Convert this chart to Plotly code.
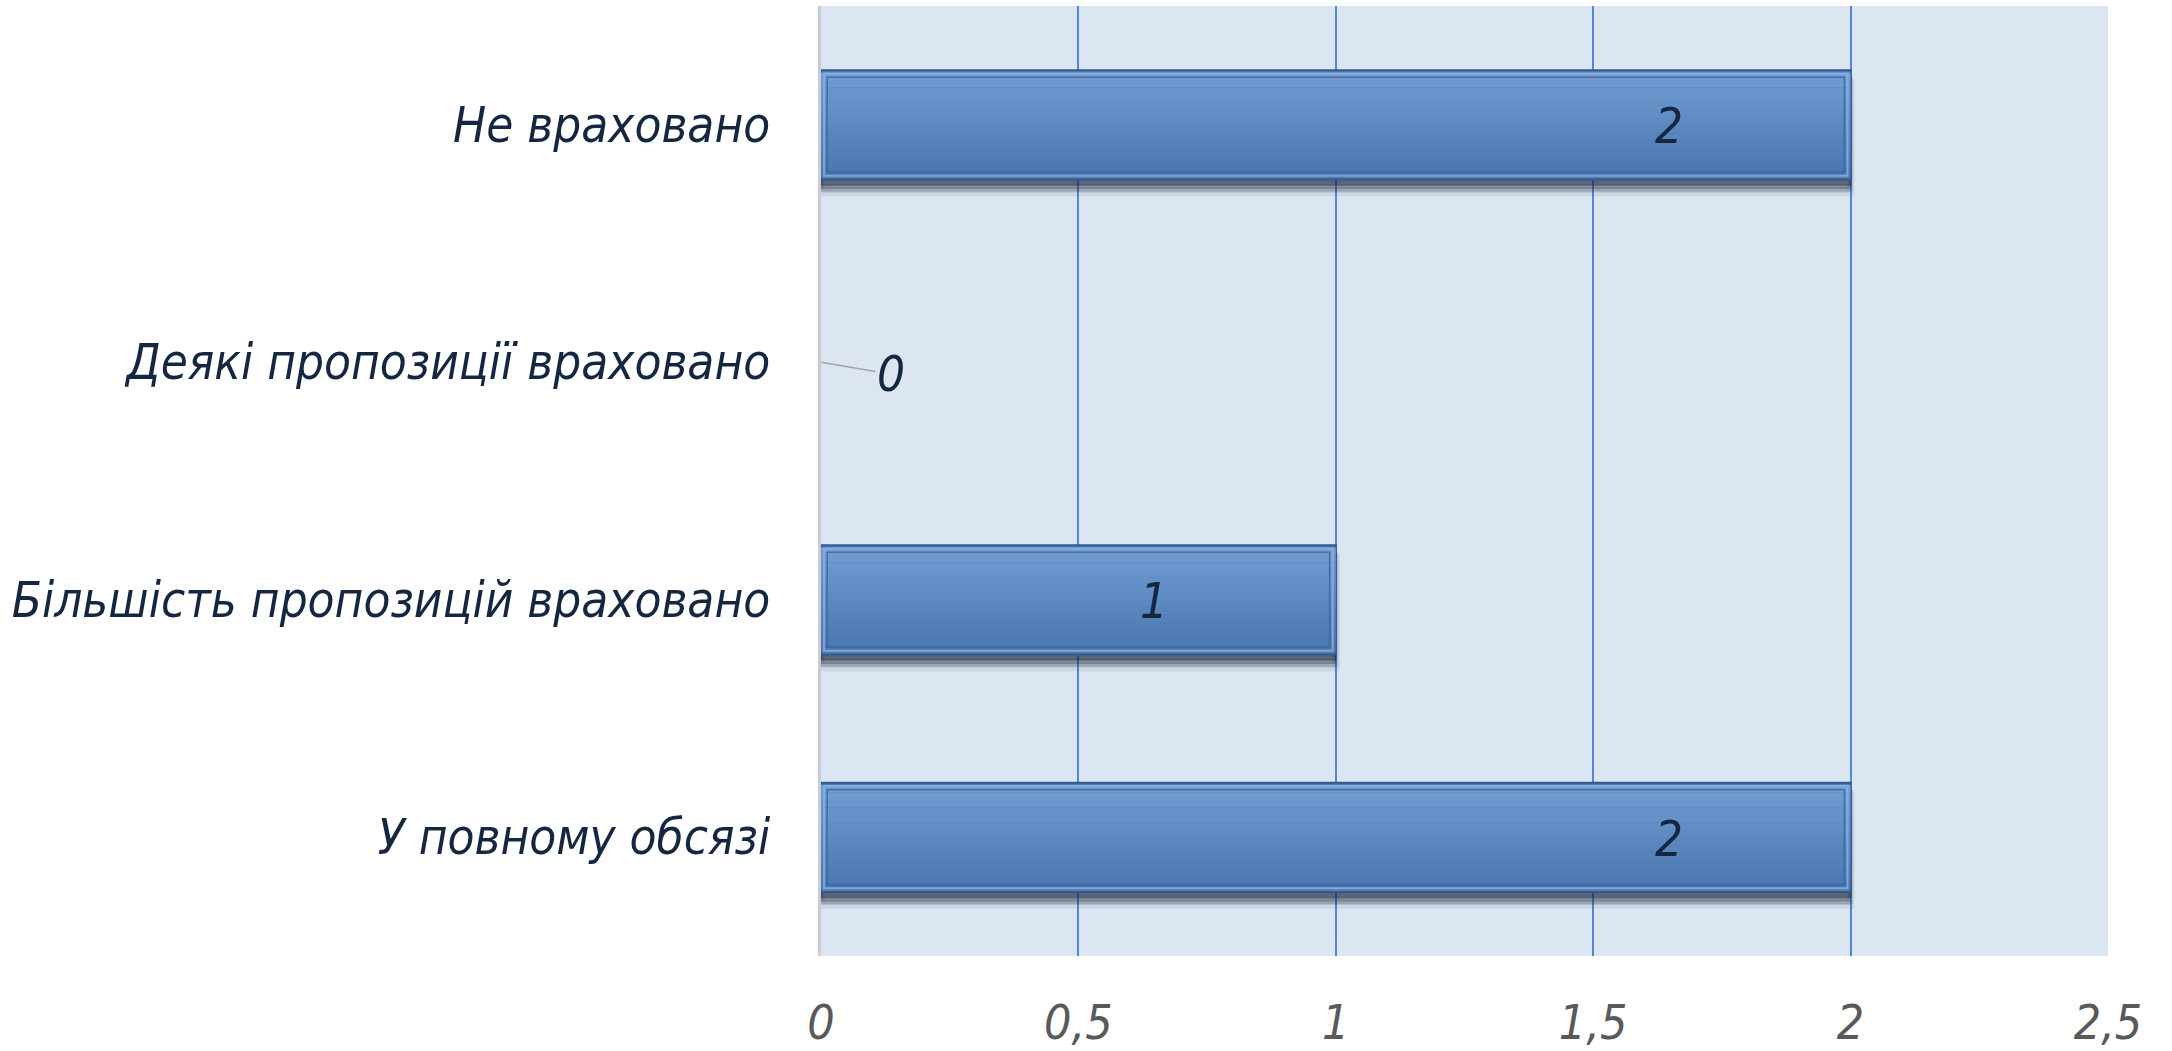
import plotly.graph_objects as go

# categories top to bottom, as in the chart
categories = [
    "Не враховано",
    "Деякі пропозиції враховано",
    "Більшість пропозицій враховано",
    "У повному обсязі",
]
values = [2, 0, 1, 2]
tick_vals = [0, 0.5, 1, 1.5, 2, 2.5]
tick_text = ["0", "0,5", "1", "1,5", "2", "2,5"]

FONT = "Liberation Sans Narrow, DejaVu Sans Condensed, Open Sans, sans-serif"
BAR_W = 0.46

# no border line on empty bars
def lw(w):
    return [w if v > 0 else 0 for v in values]

fig = go.Figure()

# soft shadow under and right of the bars
for shift, alpha, spread in [(0.055, 0.15, 8), (0.04, 0.3, 5), (0.025, 0.45, 2)]:
    fig.add_trace(go.Bar(
        y=categories, x=values, orientation="h",
        width=BAR_W, offset=-BAR_W / 2 + shift,
        marker=dict(color=f"rgba(30,40,60,{alpha})",
                    line=dict(color=f"rgba(30,40,60,{alpha / 2})", width=lw(spread))),
        hoverinfo="skip", showlegend=False,
    ))

# outer bar with border
fig.add_trace(go.Bar(
    y=categories, x=values, orientation="h",
    width=BAR_W, offset=-BAR_W / 2,
    marker=dict(color="#4f7db6", line=dict(color="#34598a", width=lw(2))),
    hoverinfo="skip", showlegend=False,
))

# vertical gradient, light on top, darker below
top = (112, 156, 210)
bot = (74, 119, 176)
n = 14
h = (BAR_W - 0.02) / n
for i in range(n):
    t = i / (n - 1)
    c = tuple(round(top[k] + (bot[k] - top[k]) * t) for k in range(3))
    fig.add_trace(go.Bar(
        y=categories, x=values, orientation="h",
        width=h * 1.02, offset=-BAR_W / 2 + 0.01 + i * h,
        marker=dict(color="rgb(%d,%d,%d)" % c, line=dict(width=0)),
        hoverinfo="skip", showlegend=False,
    ))

# inner bevel lines
inset = 0.012
fig.add_trace(go.Bar(
    y=categories, x=[v - 2 * inset if v > 0 else 0 for v in values],
    base=inset, orientation="h",
    width=BAR_W - 0.06, offset=-(BAR_W - 0.06) / 2,
    marker=dict(color="rgba(0,0,0,0)",
                line=dict(color="rgba(60,100,155,0.8)", width=lw(1.5))),
    hoverinfo="skip", showlegend=False,
))
fig.add_trace(go.Bar(
    y=categories, x=[v - inset if v > 0 else 0 for v in values],
    base=inset / 2, orientation="h",
    width=BAR_W - 0.03, offset=-(BAR_W - 0.03) / 2,
    marker=dict(color="rgba(0,0,0,0)",
                line=dict(color="rgba(140,178,228,0.8)", width=lw(2))),
    hoverinfo="skip", showlegend=False,
))

# value labels
for cat, v in zip(categories, values):
    if v > 0:
        fig.add_annotation(
            x=v, y=cat, text=str(v), showarrow=False,
            xanchor="center", xshift=-182, yshift=-2,
            font=dict(family=FONT, size=49, color="#142640", style="italic"),
        )
    else:
        fig.add_annotation(
            x=v, y=cat, text=str(v), showarrow=True,
            arrowhead=0, arrowwidth=1.5, arrowcolor="#a6a6a6",
            ax=70, ay=12,
            font=dict(family=FONT, size=49, color="#142640", style="italic"),
        )

fig.update_layout(
    width=2172, height=1051,
    margin=dict(l=821, r=64, t=6, b=95),
    paper_bgcolor="white",
    plot_bgcolor="#dce6f2",
    barmode="overlay",
    showlegend=False,
    xaxis=dict(
        range=[0, 2.5],
        tickvals=tick_vals, ticktext=tick_text,
        showgrid=True, gridcolor="#5089d8", gridwidth=1.5,
        zeroline=False, showline=False,
        ticks="", ticklabelstandoff=34, automargin=False,
        tickfont=dict(family=FONT, size=48, color="#595959", style="italic"),
        fixedrange=True,
    ),
    yaxis=dict(
        autorange="reversed",
        showgrid=False, zeroline=False,
        showline=True, linecolor="#c9cdd3", linewidth=3,
        ticks="", ticklabelstandoff=38, automargin=False,
        tickfont=dict(family=FONT, size=49, color="#142640", style="italic"),
        fixedrange=True,
    ),
)

# drop the default page margin so the chart sits at the window corner
fig.write_html("out.html", config={"displayModeBar": False},
               post_script="document.body.style.margin='0';")
